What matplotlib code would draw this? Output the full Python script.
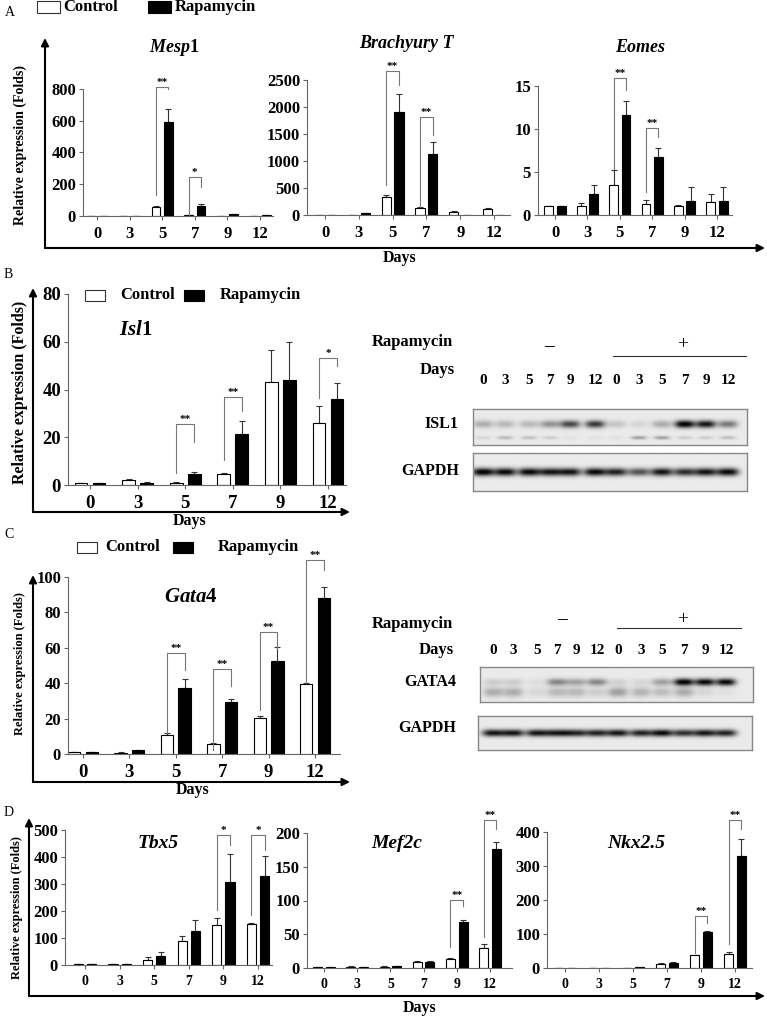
import numpy as np
import matplotlib.pyplot as plt

plt.rcParams['font.family'] = ['Liberation Serif', 'DejaVu Serif']
plt.rcParams['font.weight'] = 'bold'
plt.rcParams['mathtext.fontset'] = 'custom'
plt.rcParams['mathtext.it'] = 'Liberation Serif:italic:bold'
plt.rcParams['mathtext.rm'] = 'Liberation Serif:bold'
plt.rcParams['mathtext.bf'] = 'Liberation Serif:bold'

W, H = 767, 1017
days = ['0', '3', '5', '7', '9', '12']
lanes = ['0', '3', '5', '7', '9', '12', '0', '3', '5', '7', '9', '12']

# ---- qPCR values (fold change) ----
mesp1_ctrl = [1, 0.5, 55, 5, 2, 2]
mesp1_ctrl_err = [0, 0, 6, 2, 1, 1]
mesp1_rapa = [1, 0.5, 590, 65, 10, 5]
mesp1_rapa_err = [0, 0, 85, 8, 2, 1]
mesp1_sig = [(2, 815, 130, 798, '**'), (3, 248, 6, 185, '*')]

bra_ctrl = [0, 5, 340, 130, 60, 120]
bra_ctrl_err = [0, 2, 30, 15, 15, 15]
bra_rapa = [0, 30, 1900, 1130, 5, 0]
bra_rapa_err = [0, 5, 350, 230, 2, 0]
bra_sig = [(2, 2667, 555, 2407, '**'), (3, 1820, 155, 1480, '**')]

eomes_ctrl = [1.0, 1.0, 3.5, 1.3, 1.0, 1.5]
eomes_ctrl_err = [0, 0.35, 1.7, 0.4, 0.15, 0.9]
eomes_rapa = [1.0, 2.5, 11.6, 6.8, 1.6, 1.6]
eomes_rapa_err = [0, 1.0, 1.7, 1.0, 1.6, 1.7]
eomes_sig = [(2, 15.9, 5.4, 14.5, '**'), (3, 10.1, 2.7, 9.1, '**')]

isl1_ctrl = [1, 2.2, 1.0, 4.5, 43, 26]
isl1_ctrl_err = [0, 0.3, 0.2, 0.6, 13.5, 7]
isl1_rapa = [1, 1, 4.5, 21.3, 44, 36]
isl1_rapa_err = [0, 0.2, 1.0, 5.3, 16, 6.8]
isl1_sig = [(2, 25.5, 4.9, 18.2, '**'), (3, 37, 10.5, 30.8, '**'), (5, 53.4, 36.4, 50, '*')]

gata4_ctrl = [1, 0.7, 11, 5.8, 20.5, 39.5]
gata4_ctrl_err = [0, 0.2, 1.0, 0.4, 1.0, 0.8]
gata4_rapa = [1, 2, 37.5, 29.5, 52.5, 88]
gata4_rapa_err = [0, 0.3, 5, 1.5, 8, 6.5]
gata4_sig = [(2, 57, 11.9, 47.3, '**'), (3, 48, 2.4, 38.6, '**'),
             (4, 68.7, 25, 59.5, '**'), (5, 109.8, 40, 104, '**')]

tbx5_ctrl = [2, 3, 20, 90, 150, 152]
tbx5_ctrl_err = [0, 1, 8, 17, 25, 5]
tbx5_rapa = [2, 3, 35, 125, 307, 330]
tbx5_rapa_err = [0, 1, 13, 40, 105, 75]
tbx5_sig = [(4, 481, 204, 444, '*'), (5, 481, 185, 426, '*')]

mef2c_ctrl = [1, 2, 2, 9, 13, 30]
mef2c_ctrl_err = [0, 0.3, 0.3, 0.8, 1.5, 5]
mef2c_rapa = [1, 1.5, 3, 9.5, 68, 177]
mef2c_rapa_err = [0, 0.3, 0.5, 0.5, 3, 10]
mef2c_sig = [(4, 101, 31.7, 92, '**'), (5, 219, 46.5, 206, '**')]

nkx_ctrl = [1, 1, 1, 12, 37, 40]
nkx_ctrl_err = [0, 0, 0, 2, 2, 8]
nkx_rapa = [1, 1, 2, 16, 105, 330]
nkx_rapa_err = [0, 0, 0.5, 1, 5, 50]
nkx_sig = [(4, 152, 45, 131, '**'), (5, 436, 72, 410, '**')]

# ---- western blot band darkness (0 = none, 1 = saturated) ----
isl1_band = [0.25, 0.2, 0.2, 0.35, 0.65, 0.7, 0.15, 0.08, 0.25, 0.95, 0.85, 0.45]
isl1_low = [0.08, 0.2, 0.18, 0.12, 0.04, 0.04, 0.04, 0.3, 0.3, 0.12, 0.12, 0.18]
gapdh_b = [0.95, 0.9, 0.9, 0.85, 0.85, 0.9, 0.8, 0.6, 0.85, 0.75, 0.85, 0.9]
gata4_band = [0.12, 0.12, 0.05, 0.4, 0.3, 0.4, 0.1, 0.08, 0.3, 0.95, 0.9, 0.9]
gata4_low = [0.25, 0.25, 0.08, 0.2, 0.2, 0.12, 0.3, 0.22, 0.18, 0.25, 0.08, 0.04]
gapdh_c = [0.85, 0.85, 0.85, 0.85, 0.8, 0.8, 0.85, 0.8, 0.9, 0.75, 0.85, 0.8]

fig = plt.figure(figsize=(W / 100, H / 100), dpi=100)


def px_axes(x0, y0, x1, y1):
    return fig.add_axes([x0 / W, 1 - y1 / H, (x1 - x0) / W, (y1 - y0) / H])


def bar_panel(box, ymax, yticks, ctrl, cerr, rapa, rerr, sig, xfs, yfs):
    xl, xa, xb, xr, yt, yb = box
    s = (xb - xa) / 5.0
    ax = px_axes(xl, yt, xr, yb)
    x = np.arange(6)
    w, off = 0.27, 0.19
    ax.bar(x - off, ctrl, w, color='white', edgecolor='black', lw=0.8, zorder=2)
    ax.bar(x + off, rapa, w, color='black', edgecolor='black', lw=0.8, zorder=2)
    z = np.zeros(6)
    ax.errorbar(x - off, ctrl, yerr=[z, cerr], fmt='none', ecolor='#333333',
                elinewidth=0.8, capsize=2.5, capthick=0.8, zorder=1)
    ax.errorbar(x + off, rapa, yerr=[z, rerr], fmt='none', ecolor='#333333',
                elinewidth=0.8, capsize=2.5, capthick=0.8, zorder=1)
    for d, top, lb, rb, star in sig:
        ax.plot([d - off, d - off, d + off, d + off], [lb, top, top, rb],
                color='#777777', lw=0.8, clip_on=False)
        ax.text(d, top, star, ha='center', va='bottom', fontsize=8, clip_on=False)
    ax.set_xlim((xl - xa) / s, (xr - xa) / s)
    ax.set_ylim(0, ymax)
    ax.set_xticks(x)
    ax.set_xticklabels(days, fontsize=xfs, fontweight='bold')
    ax.set_yticks(yticks)
    ax.set_yticklabels([str(t) for t in yticks], fontsize=yfs, fontweight='bold')
    for sp in ['top', 'right']:
        ax.spines[sp].set_visible(False)
    for sp in ['left', 'bottom']:
        ax.spines[sp].set_color('#666666')
        ax.spines[sp].set_linewidth(0.8)
    ax.tick_params(colors='#666666', length=3, width=0.8, labelcolor='black', pad=2)
    ax.tick_params(axis='x', pad=4)
    ax.patch.set_alpha(0)
    return ax


def blot(box, lane_x, bands):
    x0, y0, x1, y1 = box
    ax = px_axes(x0, y0, x1, y1)
    xs = np.linspace(x0, x1, 500)
    ys = np.linspace(y0, y1, 100)
    X, Y = np.meshgrid(xs, ys)
    img = np.full(X.shape, 0.92)
    for yc, sy, wx, vals in bands:
        yy = y0 + yc * (y1 - y0)
        for lx, a in zip(lane_x, vals):
            img -= a * np.exp(-np.abs((X - lx) / wx) ** 3 - ((Y - yy) / sy) ** 2)
    img = np.clip(img, 0.03, 1)
    ax.imshow(img, cmap='gray', vmin=0, vmax=1, extent=(x0, x1, y1, y0),
              aspect='auto', interpolation='bilinear')
    ax.set_xlim(x0, x1)
    ax.set_ylim(y1, y0)
    ax.set_xticks([])
    ax.set_yticks([])
    for sp in ax.spines.values():
        sp.set_color('#888888')
        sp.set_linewidth(1.0)
    return ax


# ---- panel A ----
bar_panel((83, 97, 260, 273, 89, 216), 800, [0, 200, 400, 600, 800],
          mesp1_ctrl, mesp1_ctrl_err, mesp1_rapa, mesp1_rapa_err, mesp1_sig, 12, 12)
bar_panel((307, 325, 494, 510, 80, 215), 2500, [0, 500, 1000, 1500, 2000, 2500],
          bra_ctrl, bra_ctrl_err, bra_rapa, bra_rapa_err, bra_sig, 12, 12)
bar_panel((538, 555, 717, 732, 86, 215), 15, [0, 5, 10, 15],
          eomes_ctrl, eomes_ctrl_err, eomes_rapa, eomes_rapa_err, eomes_sig, 12, 12)

# ---- panel B ----
bar_panel((68, 90, 328, 346, 294, 485), 80, [0, 20, 40, 60, 80],
          isl1_ctrl, isl1_ctrl_err, isl1_rapa, isl1_rapa_err, isl1_sig, 13.5, 13.5)
lane_b = [483, 505, 529, 550, 570, 595, 616, 639, 662, 685, 706, 728]
blot((473, 409, 747, 445), lane_b, [(0.42, 3.8, 10, isl1_band), (0.8, 1.8, 8, isl1_low)])
blot((473, 453, 747, 491), lane_b, [(0.5, 4.0, 11, gapdh_b)])

# ---- panel C ----
bar_panel((68, 83, 315, 340, 577, 754), 100, [0, 20, 40, 60, 80, 100],
          gata4_ctrl, gata4_ctrl_err, gata4_rapa, gata4_rapa_err, gata4_sig, 13.5, 12)
lane_c = [493, 513, 537, 557, 576, 597, 618, 641, 662, 684, 705, 726]
blot((480, 667, 753, 702), lane_c, [(0.43, 3.6, 10, gata4_band), (0.72, 5.0, 10, gata4_low)])
blot((478, 716, 752, 750), lane_c, [(0.5, 3.6, 11, gapdh_c)])

# ---- panel D ----
bar_panel((65, 85, 258, 272, 830, 965), 500, [0, 100, 200, 300, 400, 500],
          tbx5_ctrl, tbx5_ctrl_err, tbx5_rapa, tbx5_rapa_err, tbx5_sig, 10, 12)
bar_panel((307, 324, 490, 512, 833, 968), 200, [0, 50, 100, 150, 200],
          mef2c_ctrl, mef2c_ctrl_err, mef2c_rapa, mef2c_rapa_err, mef2c_sig, 10, 12)
bar_panel((547, 565, 735, 752, 832, 968), 400, [0, 100, 200, 300, 400],
          nkx_ctrl, nkx_ctrl_err, nkx_rapa, nkx_rapa_err, nkx_sig, 10, 12)

# ---- overlay: outer arrows, labels, legends ----
ov = fig.add_axes([0, 0, 1, 1])
ov.set_xlim(0, W)
ov.set_ylim(H, 0)
ov.axis('off')
ov.patch.set_alpha(0)


def corner(x, y_bottom, y_tip, x_tip):
    ap = dict(arrowstyle='-|>', lw=1.5, color='black', mutation_scale=11, shrinkA=0, shrinkB=0)
    ov.annotate('', xy=(x, y_tip), xytext=(x, y_bottom), arrowprops=ap)
    ov.annotate('', xy=(x_tip, y_bottom), xytext=(x, y_bottom), arrowprops=ap)


corner(45, 248, 38, 765)
corner(33, 512, 288, 350)
corner(33, 782, 575, 350)
corner(29, 996, 818, 765)


def legend(y, cb, ct, rb, rt, fs, bw=20, bh=11):
    ov.add_patch(plt.Rectangle((cb, y - bh / 2), bw, bh, fc='white', ec='#333333', lw=0.8))
    ov.text(ct, y, 'Control', ha='left', va='center', fontsize=fs)
    ov.add_patch(plt.Rectangle((rb, y - bh / 2), bw, bh, fc='black', ec='black', lw=0.8))
    ov.text(rt, y, 'Rapamycin', ha='left', va='center', fontsize=fs)


legend(7, 37, 63, 148, 175, 12, bw=23, bh=12)
legend(295, 85, 120, 184, 220, 12)
legend(547, 77, 105, 173, 218, 12)

for lab, (x, y) in {'A': (5, 13), 'B': (4, 275), 'C': (4, 535), 'D': (4, 813)}.items():
    ov.text(x, y, lab, ha='left', va='center', fontsize=10, fontweight='normal')

ylab = 'Relative expression (Folds)'
ov.text(20, 145, ylab, rotation=90, ha='center', va='center', fontsize=10)
ov.text(20, 392, ylab, rotation=90, ha='center', va='center', fontsize=11.5)
ov.text(20, 664, ylab, rotation=90, ha='center', va='center', fontsize=9)
ov.text(17, 908, ylab, rotation=90, ha='center', va='center', fontsize=9)

for x, y in [(400, 258), (190, 521), (193, 790), (420, 1008)]:
    ov.text(x, y, 'Days', ha='center', va='center', fontsize=11.5)

# gene names: mixed ones use mathtext (italic name + upright digit), others plain italic
titles = [(r'$\mathit{Mesp}\mathrm{1}$', 174, 48, 13), ('Brachyury T', 406, 43, 13),
          ('Eomes', 640, 47, 13), (r'$\mathit{Isl}\mathrm{1}$', 136, 330, 15),
          (r'$\mathit{Gata}\mathrm{4}$', 191, 597, 15), ('Tbx5', 158, 843, 14),
          ('Mef2c', 397, 844, 14), ('Nkx2.5', 636, 844, 14)]
for t, x, y, fs in titles:
    ov.text(x, y, t, ha='center', va='center', fontsize=fs, fontstyle='italic')

# blot labels
for (rx, ry, mx, my, px, py, l0, l1, ly, dx, dy, lane_x, lane_y, p1, p2) in [
        (412, 342, 549, 347, 683, 345, 613, 746, 356, 437, 370, lane_b, 381,
         ('ISL1', 441, 424), ('GAPDH', 430, 471)),
        (412, 624, 562, 620, 683, 620, 617, 741, 628, 436, 650, lane_c, 650,
         ('GATA4', 430, 682), ('GAPDH', 427, 728))]:
    ov.text(rx, ry, 'Rapamycin', ha='center', va='center', fontsize=12)
    ov.text(mx, my, '\u2013', ha='center', va='center', fontsize=14)
    ov.text(px, py, '+', ha='center', va='center', fontsize=14, fontweight='normal')
    ov.plot([l0, l1], [ly, ly], color='#333333', lw=0.8)
    ov.text(dx, dy, 'Days', ha='center', va='center', fontsize=12)
    for lx, d in zip(lane_x, lanes):
        ov.text(lx, lane_y, d, ha='center', va='center', fontsize=11)
    for name, x, y in (p1, p2):
        ov.text(x, y, name, ha='center', va='center', fontsize=11.5)

fig.savefig('out.png', dpi=100)
